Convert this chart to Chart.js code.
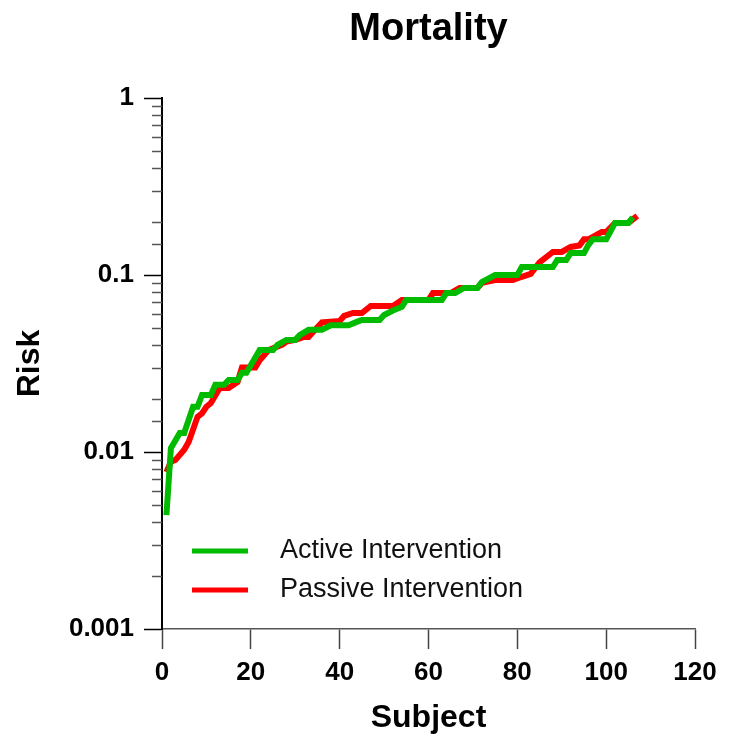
<!DOCTYPE html>
<html>
<head>
<meta charset="utf-8">
<script src="https://cdn.jsdelivr.net/npm/chart.js@4.4.1/dist/chart.umd.min.js"></script>
<style>
  html, body { margin: 0; padding: 0; background: #fff; }
</style>
</head>
<body>
<canvas id="mortality" width="731" height="745"></canvas>
<script>
// values
const activeSubject = [1, 2, 4, 5, 7, 8, 9, 11, 12, 14, 15, 17, 18, 19, 22, 25, 26, 28, 30, 31,
  33, 36, 38, 42, 44, 45, 49, 50, 52, 54, 55, 63, 64, 66, 68, 71, 72, 75, 80, 81,
  88, 89, 91, 92, 95, 96, 97, 100, 102, 105, 106];
const activeRisk = [0.0044, 0.0105, 0.0128, 0.0128, 0.018, 0.018, 0.021, 0.021, 0.024, 0.024,
  0.0255, 0.0255, 0.028, 0.028, 0.0377, 0.0377, 0.0403, 0.043, 0.043, 0.0457,
  0.049, 0.049, 0.052, 0.052, 0.0545, 0.0557, 0.0557, 0.0594, 0.063, 0.066,
  0.0723, 0.0723, 0.079, 0.079, 0.0845, 0.0845, 0.0913, 0.1, 0.1, 0.111,
  0.111, 0.1216, 0.1216, 0.133, 0.133, 0.148, 0.159, 0.159, 0.197, 0.197, 0.212];

const passiveSubject = [1, 2, 3, 5, 6, 8, 9, 10, 11, 13, 15, 17, 18, 21, 22, 24, 25, 27, 28, 30,
  32, 33, 34, 36, 40, 41, 43, 45, 47, 52, 54, 60, 61, 65, 67, 71, 72, 75, 79, 81,
  83, 85, 88, 90, 92, 94, 95, 96, 99, 100, 102, 105, 107];
const passiveRisk = [0.0077, 0.0088, 0.009, 0.0103, 0.0114, 0.0158, 0.0165, 0.018, 0.0189, 0.023,
  0.023, 0.0248, 0.030, 0.030, 0.033, 0.0377, 0.0386, 0.0403, 0.042, 0.043,
  0.0447, 0.0447, 0.0476, 0.054, 0.055, 0.0587, 0.061, 0.061, 0.0668, 0.0668,
  0.0723, 0.0723, 0.079, 0.079, 0.0845, 0.0845, 0.0902, 0.0937, 0.0937, 0.0977,
  0.1014, 0.118, 0.135, 0.135, 0.144, 0.147, 0.159, 0.159, 0.175, 0.175,
  0.197, 0.197, 0.216];

const seriesLabels = ['Active Intervention', 'Passive Intervention'];
const riskLabels = [0.001, 0.01, 0.1, 1];
const subjectMin = 0, subjectMax = 120, subjectStep = 20;

const FONT = '"Liberation Sans", Arial, sans-serif';
const GREEN = '#00bb00';
const RED = '#ff0000';

const toPoints = (xs, ys) => xs.map((x, i) => ({x: x, y: ys[i]}));
const isMajor = v => riskLabels.some(r => Math.abs(r - v) / r < 1e-6);

// title centred over the plot area, plus legend and short minor ticks
const extras = {
  id: 'extras',
  afterDraw(chart) {
    const {ctx, chartArea} = chart;
    const yScale = chart.scales.y;
    ctx.save();

    ctx.fillStyle = '#000';
    ctx.font = 'bold 38px ' + FONT;
    ctx.textAlign = 'center';
    ctx.textBaseline = 'middle';
    ctx.fillText('Mortality', (chartArea.left + chartArea.right) / 2, 30);

    // minor ticks on the log axis
    ctx.strokeStyle = '#555';
    ctx.lineWidth = 1.5;
    yScale.ticks.forEach(t => {
      if (isMajor(t.value)) return;
      const py = Math.round(yScale.getPixelForValue(t.value)) + 0.5;
      ctx.beginPath();
      ctx.moveTo(chartArea.left - 10, py);
      ctx.lineTo(chartArea.left, py);
      ctx.stroke();
    });

    // legend inside the plot
    ctx.font = '27px ' + FONT;
    ctx.textAlign = 'left';
    chart.data.datasets.forEach((ds, i) => {
      const ly = chartArea.bottom - 78 + i * 39;
      ctx.strokeStyle = ds.borderColor;
      ctx.lineWidth = 5;
      ctx.beginPath();
      ctx.moveTo(chartArea.left + 30, ly);
      ctx.lineTo(chartArea.left + 86, ly);
      ctx.stroke();
      ctx.fillStyle = '#111';
      ctx.fillText(ds.label, chartArea.left + 118, ly);
    });
    ctx.restore();
  }
};

new Chart(document.getElementById('mortality'), {
  type: 'line',
  data: {
    datasets: [
      {
        label: seriesLabels[0],
        data: toPoints(activeSubject, activeRisk),
        borderColor: GREEN,
        backgroundColor: GREEN,
        borderWidth: 6,
        pointRadius: 0,
        tension: 0
      },
      {
        label: seriesLabels[1],
        data: toPoints(passiveSubject, passiveRisk),
        borderColor: RED,
        backgroundColor: RED,
        borderWidth: 6,
        pointRadius: 0,
        tension: 0
      }
    ]
  },
  options: {
    responsive: false,
    animation: false,
    layout: {padding: {top: 98, right: 36, left: 0, bottom: 0}},
    plugins: {
      legend: {display: false},
      title: {display: false},
      tooltip: {enabled: false}
    },
    scales: {
      x: {
        type: 'linear',
        min: subjectMin,
        max: subjectMax,
        ticks: {
          stepSize: subjectStep,
          color: '#000',
          padding: 8,
          font: {family: FONT, size: 26, weight: 'bold'}
        },
        grid: {drawOnChartArea: false, drawTicks: true, tickLength: 20, tickColor: '#444', tickWidth: 1.5},
        border: {color: '#555', width: 1.5},
        title: {
          display: true,
          text: 'Subject',
          color: '#000',
          padding: {top: 4, bottom: 8},
          font: {family: FONT, size: 32, weight: 'bold'}
        },
        afterFit(scale) { scale.height = 116; }
      },
      y: {
        type: 'logarithmic',
        min: 0.001,
        max: 1,
        ticks: {
          autoSkip: false,
          color: '#000',
          padding: 10,
          font: {family: FONT, size: 26, weight: 'bold'},
          callback: (v) => isMajor(v) ? String(v) : ''
        },
        grid: {
          drawOnChartArea: false,
          drawTicks: true,
          tickLength: 18,
          tickWidth: 1.5,
          tickColor: (c) => (c.tick && isMajor(c.tick.value)) ? '#000' : 'rgba(0,0,0,0)'
        },
        border: {color: '#000', width: 2},
        title: {
          display: true,
          text: 'Risk',
          color: '#000',
          padding: {top: 11, bottom: 0},
          font: {family: FONT, size: 32, weight: 'bold'}
        },
        afterFit(scale) { scale.width = 162; }
      }
    }
  },
  plugins: [extras]
});
</script>
</body>
</html>
